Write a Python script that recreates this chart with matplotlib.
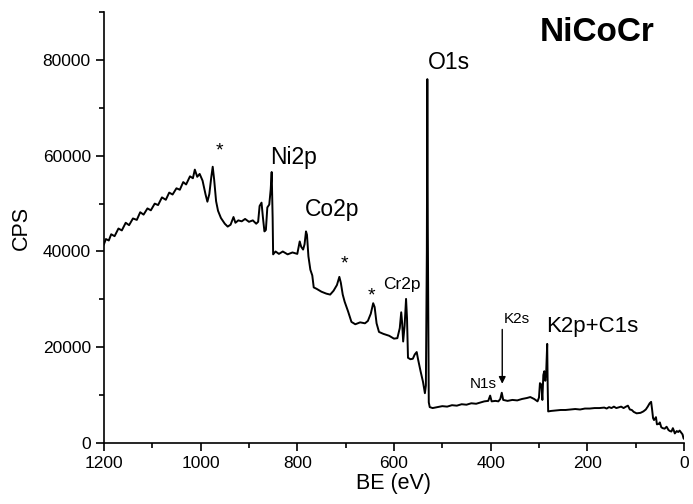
import matplotlib.pyplot as plt
from matplotlib.ticker import MultipleLocator

plt.rcParams['font.family'] = ['Liberation Sans', 'DejaVu Sans']

# XPS survey spectrum: binding energy (eV) and counts per second
be = [1200, 1196, 1190, 1185, 1178, 1170, 1163, 1155, 1148, 1140, 1132, 1125, 1118,
      1110, 1103, 1095, 1088, 1080, 1072, 1065, 1058, 1050, 1043, 1036, 1030, 1022,
      1016, 1012, 1007, 1002, 996, 990, 986, 982, 978, 975, 972, 968, 964, 958, 950,
      944, 938, 932, 928, 922, 915, 908, 900, 892, 885, 881, 878, 874, 871, 868, 865,
      862, 858, 855, 853, 851, 850, 845, 838, 830, 820, 810, 800, 795, 792, 788, 785,
      782, 780, 777, 773, 769, 766, 760, 750, 740, 732, 725, 718, 713, 710, 706, 702,
      695, 688, 680, 670, 660, 654, 648, 643, 640, 636, 631, 622, 610, 600, 593, 588,
      585, 583, 581, 578, 575, 573, 571, 566, 561, 557, 553, 550, 545, 540, 536, 534,
      532, 531, 530, 528, 526, 520, 510, 500, 490, 480, 470, 460, 450, 440, 430, 420,
      413, 405, 401, 398, 390, 384, 380, 377, 374, 365, 355, 345, 335, 325, 318, 310,
      303, 300, 298, 295, 293, 291, 289, 287, 285, 283, 282, 281, 275, 265, 255, 245,
      235, 225, 215, 205, 195, 185, 175, 165, 160, 155, 150, 145, 140, 130, 125, 120,
      116, 112, 108, 104, 98, 90, 84, 79, 75, 71, 68, 66, 64, 62, 58, 56, 52, 50, 47,
      44, 40, 36, 32, 29, 26, 23, 21, 19, 15, 12, 9, 6, 3, 1, 0]
cps = [41500, 42600, 42300, 43600, 43200, 44800, 44400, 46000, 45500, 46900, 46600,
       48200, 47700, 49000, 48600, 50000, 49700, 51300, 50800, 52300, 51900, 53200,
       52900, 54500, 54000, 55700, 55300, 57100, 55600, 56200, 54800, 52000, 50400,
       52000, 55500, 57700, 55000, 50500, 48500, 47000, 45800, 45200, 45600, 47200,
       46000, 46500, 46300, 46800, 46200, 46500, 45800, 46200, 49500, 50200, 47000,
       44200, 44500, 49200, 49800, 53000, 56600, 47000, 39400, 40000, 39500, 40000,
       39400, 39800, 39500, 42100, 41000, 40400, 41500, 44200, 43500, 39000, 36200,
       35000, 32500, 32200, 31600, 31200, 31000, 31800, 33000, 34700, 33500, 31000,
       29500, 27500, 25300, 24800, 25200, 25000, 25500, 27000, 29200, 28400, 25000,
       23200, 22800, 22400, 21800, 21900, 24000, 27300, 25000, 21200, 24500, 30100,
       26000, 17800, 17500, 17600, 18500, 19000, 17400, 15000, 12800, 10400, 12000,
       40000, 76000, 45000, 8500, 7500, 7300, 7500, 7700, 7600, 7900, 7800, 8100, 8000,
       8300, 8200, 8500, 8700, 8800, 9900, 8700, 8800, 8700, 9200, 10500, 9000, 8800,
       9000, 8900, 9200, 9400, 9600, 9200, 8700, 9500, 12500, 12200, 9000, 14200,
       15000, 13000, 15000, 20700, 12000, 6600, 6700, 6800, 6900, 6900, 7000, 7100,
       7000, 7200, 7200, 7300, 7300, 7400, 7200, 7500, 7300, 7600, 7300, 7600, 7300,
       7600, 7800, 7000, 6900, 6500, 6200, 6300, 6600, 7000, 7600, 8300, 8600, 7000,
       5200, 4800, 5400, 3900, 4000, 4300, 3300, 3100, 3000, 3400, 2700, 2500, 2400,
       3100, 2600, 2000, 2500, 2300, 2600, 2200, 1800, 1000, 900]

fig = plt.figure(figsize=(6.93, 5.04), dpi=100)
ax = fig.add_axes([0.150, 0.121, 0.837, 0.855])
ax.plot(be, cps, color='black', linewidth=1.4)

ax.set_xlim(1200, 0)
ax.set_ylim(0, 90000)
ax.spines['top'].set_visible(False)
ax.spines['right'].set_visible(False)
ax.spines['left'].set_linewidth(1.2)
ax.spines['bottom'].set_linewidth(1.2)
ax.xaxis.set_major_locator(MultipleLocator(200))
ax.xaxis.set_minor_locator(MultipleLocator(100))
ax.yaxis.set_major_locator(MultipleLocator(20000))
ax.yaxis.set_minor_locator(MultipleLocator(10000))
ax.tick_params(which='major', direction='out', length=6, width=1.2, labelsize=12.5)
ax.tick_params(which='minor', direction='out', length=3.5, width=1.2)
ax.set_xlabel('BE (eV)', fontsize=15.5, labelpad=1)
ax.set_ylabel('CPS', fontsize=15.5, labelpad=8)

# peak labels
ax.text(857, 59700, 'Ni2p', fontsize=16.5, va='center')
ax.text(785, 48800, 'Co2p', fontsize=16.5, va='center')
ax.text(529, 79400, 'O1s', fontsize=16.5, va='center')
ax.text(622, 33100, 'Cr2p', fontsize=12.5, va='center')
ax.text(285, 24300, 'K2p+C1s', fontsize=16, va='center')
ax.text(444, 12400, 'N1s', fontsize=11, va='center')
ax.text(372, 25800, 'K2s', fontsize=11, va='center')
ax.annotate('', xy=(376, 11800), xytext=(376, 24300),
            arrowprops=dict(arrowstyle='-|>', color='black', lw=1, mutation_scale=10))
for sx, sy in [(962, 61000), (702, 37300), (646, 30800)]:
    ax.text(sx, sy, '*', fontsize=14, ha='center', va='center')
ax.text(299, 85800, 'NiCoCr', fontsize=24, fontweight='bold', va='center')

plt.savefig('out.png', dpi=100)
